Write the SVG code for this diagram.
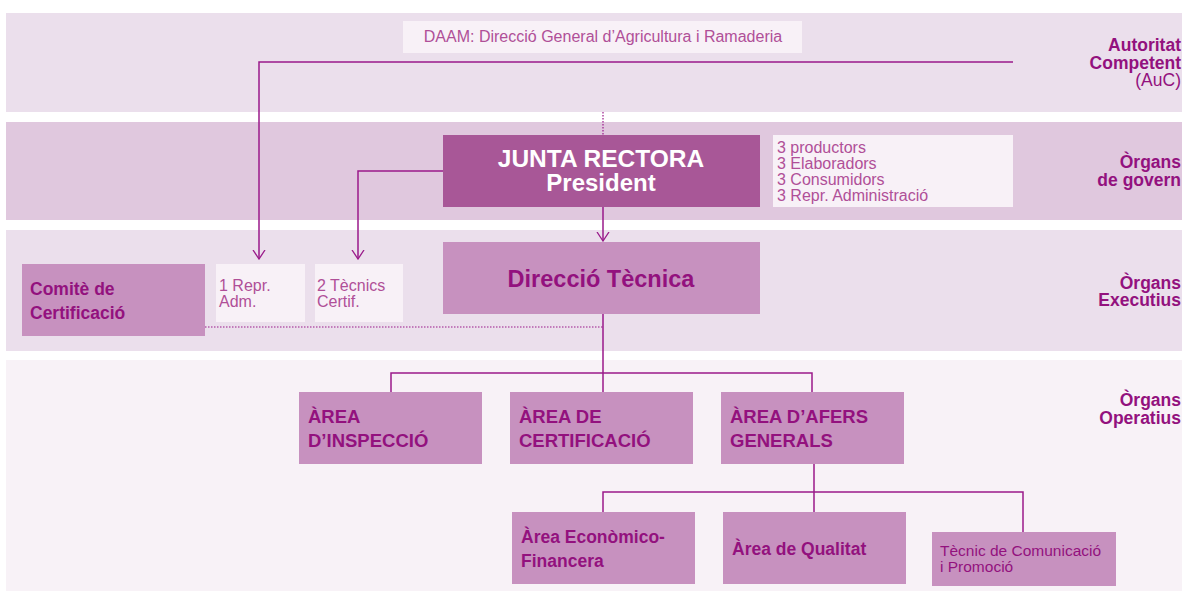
<svg xmlns="http://www.w3.org/2000/svg" width="1182" height="591" viewBox="0 0 1182 591">
<defs>
<style>
.band1{fill:#ebdfec}
.band2{fill:#e0c8de}
.band4{fill:#f8f2f7}
.light{fill:#f8f1f7}
.mid{fill:#c791bf}
.dark{fill:#a85797}
.lbl{font-family:"Liberation Sans",Arial,sans-serif;font-weight:bold;fill:#93117e;font-size:17.5px;text-anchor:end}
.lblr{font-family:"Liberation Sans",Arial,sans-serif;fill:#93117e;font-size:17.5px;text-anchor:end}
.sm{font-family:"Liberation Sans",Arial,sans-serif;fill:#b04f98;font-size:16px}
.bt{font-family:"Liberation Sans",Arial,sans-serif;font-weight:bold;fill:#93117e;font-size:17.5px}
.cap{font-size:18.5px}
.big{font-family:"Liberation Sans",Arial,sans-serif;font-weight:bold;font-size:23.5px;text-anchor:middle}
.ln{fill:none;stroke:#9a1a8a;stroke-width:1.5}
.dot{fill:none;stroke:#9a1a8a;stroke-width:1.2;stroke-dasharray:1.5 1.5}
</style>
<marker id="arr" viewBox="0 0 10 14" refX="9" refY="7" markerWidth="10" markerHeight="14" markerUnits="userSpaceOnUse" orient="auto">
<path d="M0,1 L9,7 L0,13" fill="none" stroke="#9a1a8a" stroke-width="1.3"/>
</marker>
</defs>
<rect width="1182" height="591" fill="#ffffff"/>
<g id="bands">
<rect class="band1" x="6" y="13" width="1176" height="99"/>
<rect class="band2" x="6" y="122" width="1176" height="98"/>
<rect class="band1" x="6" y="230" width="1176" height="121"/>
<rect class="band4" x="6" y="360" width="1176" height="231"/>
</g>
<g id="levels">
<text class="lbl" x="1181" y="51">Autoritat</text>
<text class="lbl" x="1181" y="69">Competent</text>
<text class="lblr" x="1181" y="86">(AuC)</text>
<text class="lbl" x="1181" y="168">Òrgans</text>
<text class="lbl" x="1181" y="186">de govern</text>
<text class="lbl" x="1181" y="289">Òrgans</text>
<text class="lbl" x="1181" y="306">Executius</text>
<text class="lbl" x="1181" y="406">Òrgans</text>
<text class="lbl" x="1181" y="424">Operatius</text>
</g>
<g id="connectors">
<path class="ln" d="M1013,62 H259 V259" marker-end="url(#arr)"/>
<path class="ln" d="M443,171 H358 V259" marker-end="url(#arr)"/>
<path class="dot" d="M603,112 V135"/>
<path class="ln" d="M603,207 V241" marker-end="url(#arr)"/>
<path class="dot" d="M205,327 H603"/>
<path class="ln" d="M603,314 V392 M391,392 V373 H812 V392"/>
<path class="ln" d="M814,464 V512 M603,512 V492 H1023 V532"/>
</g>
<g id="daam">
<rect class="light" x="403" y="21" width="399" height="32"/>
<text class="sm" x="603" y="42" text-anchor="middle">DAAM: Direcció General d’Agricultura i Ramaderia</text>
</g>
<g id="junta">
<rect class="dark" x="443" y="135" width="317" height="72"/>
<text class="big" x="601" y="167" fill="#ffffff" style="font-size:24.5px">JUNTA RECTORA</text>
<text class="big" x="601" y="191" fill="#ffffff" style="font-size:24px">President</text>
</g>
<g id="members">
<rect class="light" x="773" y="135" width="240" height="72"/>
<text class="sm" x="777" y="153">3 productors</text>
<text class="sm" x="777" y="169">3 Elaboradors</text>
<text class="sm" x="777" y="185">3 Consumidors</text>
<text class="sm" x="777" y="201">3 Repr. Administració</text>
</g>
<g id="direccio">
<rect class="mid" x="443" y="242" width="317" height="72"/>
<text class="big" x="601" y="287" fill="#93117e">Direcció Tècnica</text>
</g>
<g id="comite">
<rect class="mid" x="22" y="264" width="183" height="72"/>
<text class="bt" x="30" y="295">Comitè de</text>
<text class="bt" x="30" y="319">Certificació</text>
</g>
<g id="repr">
<rect class="light" x="216" y="264" width="89" height="58"/>
<text class="sm" x="219" y="291">1 Repr.</text>
<text class="sm" x="219" y="307">Adm.</text>
</g>
<g id="tecnics">
<rect class="light" x="315" y="264" width="88" height="58"/>
<text class="sm" x="317" y="291">2 Tècnics</text>
<text class="sm" x="317" y="307">Certif.</text>
</g>
<g id="inspeccio">
<rect class="mid" x="299" y="392" width="183" height="72"/>
<text class="bt cap" x="308" y="423">ÀREA</text>
<text class="bt cap" x="308" y="447">D’INSPECCIÓ</text>
</g>
<g id="certificacio">
<rect class="mid" x="510" y="392" width="183" height="72"/>
<text class="bt cap" x="519" y="423">ÀREA DE</text>
<text class="bt cap" x="519" y="447">CERTIFICACIÓ</text>
</g>
<g id="afers">
<rect class="mid" x="721" y="392" width="183" height="72"/>
<text class="bt cap" x="730" y="423">ÀREA D’AFERS</text>
<text class="bt cap" x="730" y="447">GENERALS</text>
</g>
<g id="economic">
<rect class="mid" x="512" y="512" width="183" height="72"/>
<text class="bt" x="521" y="543">Àrea Econòmico-</text>
<text class="bt" x="521" y="567">Financera</text>
</g>
<g id="qualitat">
<rect class="mid" x="723" y="512" width="183" height="72"/>
<text class="bt" x="732" y="555">Àrea de Qualitat</text>
</g>
<g id="comunicacio">
<rect class="mid" x="932" y="532" width="184" height="54"/>
<text class="sm" x="940" y="556" style="fill:#93117e;font-size:15.5px">Tècnic de Comunicació</text>
<text class="sm" x="940" y="572" style="fill:#93117e;font-size:15.5px">i Promoció</text>
</g>
</svg>
